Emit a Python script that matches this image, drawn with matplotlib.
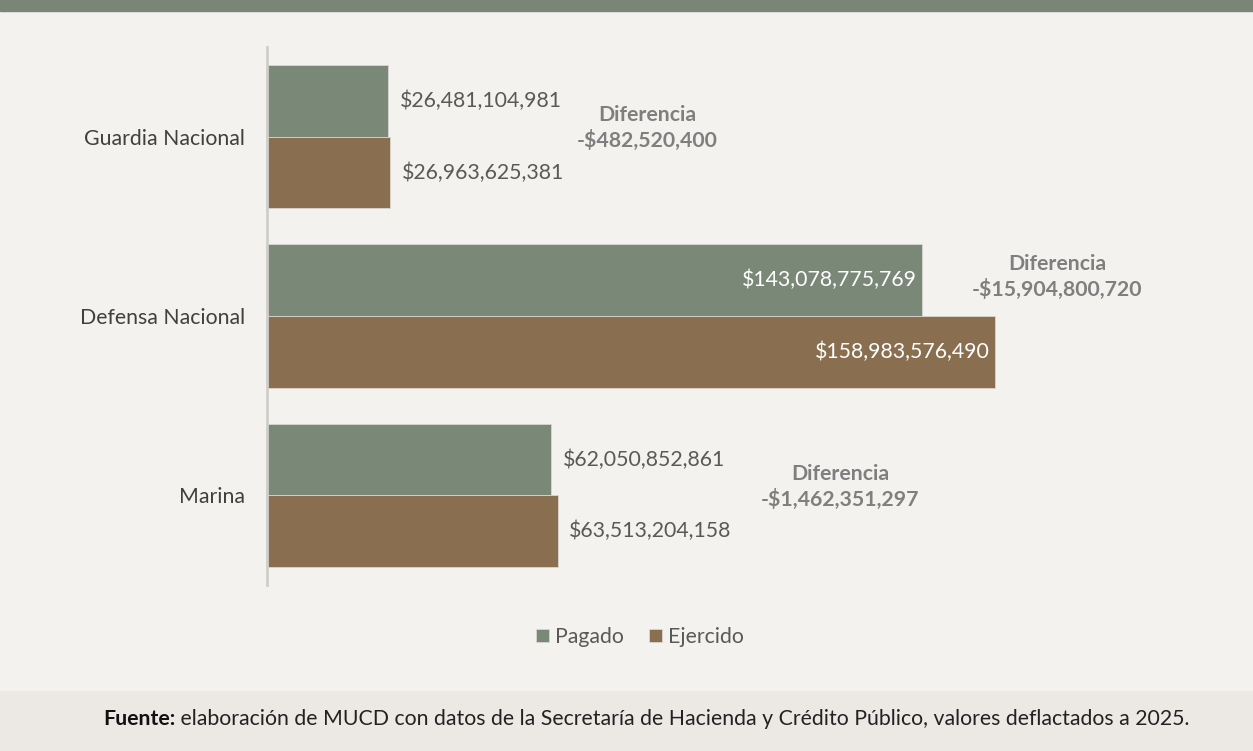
import matplotlib
matplotlib.use("Agg")
import matplotlib.pyplot as plt
import numpy as np

categories = ["Guardia Nacional", "Defensa Nacional", "Marina"]
pagado = [26481104981, 143078775769, 62050852861]
ejercido = [26963625381, 158983576490, 63513204158]
diferencia_labels = ["-$482,520,400", "-$15,904,800,720", "-$1,462,351,297"]
series_names = ["Pagado", "Ejercido"]
footer_bold = "Fuente:"
footer_text = " elaboración de MUCD con datos de la Secretaría de Hacienda y Crédito Público, valores deflactados a 2025."

plt.rcParams['font.family'] = ['Lato', 'DejaVu Sans']

W, H = 1253, 751
fig = plt.figure(figsize=(W / 100, H / 100), dpi=100)
fig.patch.set_facecolor("#F4F2EE")

# top band and footer band
fig.patches.append(matplotlib.patches.Rectangle((0, 1 - 11 / H), 1, 11 / H, transform=fig.transFigure,
                                                color="#7A8578", zorder=0))
fig.patches.append(matplotlib.patches.Rectangle((0, 0), 1, 60 / H, transform=fig.transFigure,
                                                color="#ECE9E4", zorder=0))

GREEN = "#7A8878"
BROWN = "#8A6E50"
TXT = "#595959"

ax_left, ax_right = 267, 1230
ax_top, ax_bot = 47, 585
ax = fig.add_axes([ax_left / W, 1 - ax_bot / H, (ax_right - ax_left) / W, (ax_bot - ax_top) / H])
ax.set_facecolor("none")

px_per_unit = (922 - 267) / pagado[1]
ax.set_xlim(0, (ax_right - ax_left) / px_per_unit)
ax.set_ylim(2.5, -0.5)

y = np.arange(len(categories))
h = 0.4
ax.barh(y - h / 2, pagado, height=h, color=GREEN, label=series_names[0], edgecolor="#D9D6D0", linewidth=0.6)
ax.barh(y + h / 2, ejercido, height=h, color=BROWN, label=series_names[1], edgecolor="#D9D6D0", linewidth=0.6)

fs = 15.3
for i in range(len(categories)):
    for val, yy in ((pagado[i], y[i] - h / 2), (ejercido[i], y[i] + h / 2)):
        lab = "${:,}".format(val)
        if val > 100e9:
            ax.text(val - 0.005 * ax.get_xlim()[1], yy, lab, ha="right", va="center", color="white", fontsize=fs)
        else:
            ax.text(val + 0.012 * ax.get_xlim()[1], yy, lab, ha="left", va="center", color=TXT, fontsize=fs)

# Diferencia annotations
dif_pos = [(647, 128), (1057, 277), (840, 487)]
for (xp, yp), lab in zip(dif_pos, diferencia_labels):
    fig.text(xp / W, 1 - yp / H, "Diferencia\n" + lab, ha="center", va="center", color="#7F7F7F",
             fontsize=15.3, fontweight="bold", linespacing=1.3)

ax.set_yticks(y)
ax.set_yticklabels(categories, fontsize=15.3, color="#404040")
ax.tick_params(axis="y", length=0, pad=16)
ax.set_xticks([])
for s in ["top", "right", "bottom"]:
    ax.spines[s].set_visible(False)
ax.spines["left"].set_color("#D0CEC9")
ax.spines["left"].set_linewidth(2)

leg = fig.legend(loc="center", bbox_to_anchor=(640 / W, 1 - 637 / H), ncol=2, frameon=False,
                 fontsize=15.3, handlelength=0.6, handleheight=0.6, handletextpad=0.3, columnspacing=1.2,
                 labelcolor=TXT)

# footer
t1 = fig.text(103 / W, 1 - 719 / H, footer_bold, ha="left", va="center", fontsize=15.3, fontweight="bold",
              color="#111111")
fig.canvas.draw()
bb = t1.get_window_extent()
fig.text(bb.x1 / W, 1 - 719 / H, footer_text, ha="left", va="center", fontsize=15.3, color="#222222")

fig.savefig("out.png", dpi=100, facecolor=fig.get_facecolor())
